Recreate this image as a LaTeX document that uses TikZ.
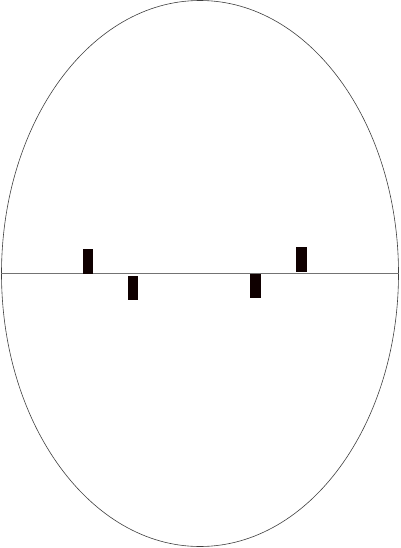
\documentclass[tikz,border=0pt]{standalone}
\begin{document}
\begin{tikzpicture}[x=1pt,y=-1pt,
  outline/.style={draw=black!75,line width=0.6pt},
  block/.style={fill=black!90!red!60!black,draw=none}]
\useasboundingbox (0,0) rectangle (400,548);
\fill[white] (0,0) rectangle (400,548);
\draw[outline] (200,273.5) ellipse [x radius=198.5, y radius=273];
\coordinate (L) at (1,273.3);
\coordinate (R) at (399,273.3);
\draw[outline,draw=black!55] (L) -- (R);
\fill[block] (82.7,249) rectangle (93,273.7);
\fill[block] (128.3,275.7) rectangle (138.3,300);
\fill[block] (250.3,273.7) rectangle (260.7,298);
\fill[block] (296.3,246.7) rectangle (306.7,271.7);
\end{tikzpicture}
\end{document}
